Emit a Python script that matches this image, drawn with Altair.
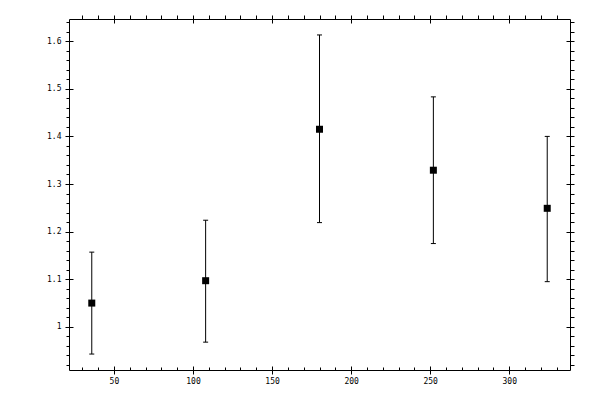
import altair as alt
import pandas as pd

# data
x_vals = [36, 108, 180, 252, 324]
y_vals = [1.050, 1.097, 1.415, 1.329, 1.249]
y_lo = [0.943, 0.968, 1.219, 1.175, 1.095]
y_hi = [1.157, 1.224, 1.613, 1.483, 1.400]

x_major = [50, 100, 150, 200, 250, 300]
x_minor = [30, 40, 60, 70, 80, 90, 110, 120, 130, 140, 160, 170, 180, 190,
           210, 220, 230, 240, 260, 270, 280, 290, 310, 320, 330]
y_major = [1.0, 1.1, 1.2, 1.3, 1.4, 1.5, 1.6]
y_minor = [0.92, 0.94, 0.96, 0.98, 1.02, 1.04, 1.06, 1.08, 1.12, 1.14, 1.16, 1.18,
           1.22, 1.24, 1.26, 1.28, 1.32, 1.34, 1.36, 1.38, 1.42, 1.44, 1.46, 1.48,
           1.52, 1.54, 1.56, 1.58, 1.62, 1.64]

x_domain = [21.6, 338.4]
y_domain = [0.9095, 1.6465]

df = pd.DataFrame({"x": x_vals, "y": y_vals, "lo": y_lo, "hi": y_hi})

xs = alt.Scale(domain=x_domain, nice=False, zero=False)
ys = alt.Scale(domain=y_domain, nice=False, zero=False)

base = alt.Chart(df)

rules = base.mark_rule(color="black", strokeWidth=1).encode(
    x=alt.X("x:Q", scale=xs, axis=None),
    y=alt.Y("lo:Q", scale=ys, axis=None),
    y2="hi:Q",
)
cap_lo = base.mark_tick(orient="horizontal", size=5, thickness=1, color="black", opacity=1).encode(
    x=alt.X("x:Q", scale=xs, axis=None),
    y=alt.Y("lo:Q", scale=ys, axis=None),
)
cap_hi = base.mark_tick(orient="horizontal", size=5, thickness=1, color="black", opacity=1).encode(
    x=alt.X("x:Q", scale=xs, axis=None),
    y=alt.Y("hi:Q", scale=ys, axis=None),
)
points = base.mark_square(size=49, color="black", opacity=1, filled=True).encode(
    x=alt.X("x:Q", scale=xs, axis=None),
    y=alt.Y("y:Q", scale=ys, axis=None),
)


def x_axis_layer(axis):
    return base.mark_point(opacity=0).encode(
        x=alt.X("x:Q", scale=xs, axis=axis, title=""),
        y=alt.Y("y:Q", scale=ys, axis=None),
    )


def y_axis_layer(axis):
    return base.mark_point(opacity=0).encode(
        x=alt.X("x:Q", scale=xs, axis=None),
        y=alt.Y("y:Q", scale=ys, axis=axis, title=""),
    )


common = dict(domain=False, grid=False, tickColor="black", tickWidth=1)

layers = [
    rules, cap_lo, cap_hi, points,
    # bottom
    x_axis_layer(alt.Axis(orient="bottom", values=x_major, ticks=False, labelPadding=7, **common)),
    x_axis_layer(alt.Axis(orient="bottom", offset=-4, values=x_major, tickSize=8, labels=False, **common)),
    x_axis_layer(alt.Axis(orient="bottom", offset=-3, values=x_minor, tickSize=3, labels=False, **common)),
    # top
    x_axis_layer(alt.Axis(orient="top", offset=-4, values=x_major, tickSize=8, labels=False, **common)),
    x_axis_layer(alt.Axis(orient="top", values=x_minor, tickSize=4, labels=False, **common)),
    # left
    y_axis_layer(alt.Axis(orient="left", values=y_major, format=".1~f", ticks=False, labelPadding=8, **common)),
    y_axis_layer(alt.Axis(orient="left", offset=-4, values=y_major, tickSize=8, labels=False, **common)),
    y_axis_layer(alt.Axis(orient="left", values=y_minor, tickSize=3, labels=False, **common)),
    # right
    y_axis_layer(alt.Axis(orient="right", offset=-4, values=y_major, tickSize=8, labels=False, **common)),
    y_axis_layer(alt.Axis(orient="right", values=y_minor, tickSize=4, labels=False, **common)),
]

chart = alt.layer(*layers).resolve_axis(x="independent", y="independent").properties(
    width=501,
    height=351,
    autosize=alt.AutoSizeParams(type="none"),
    padding={"left": 61, "top": 11, "right": 22, "bottom": 22},
    background="white",
).configure_view(
    stroke="black", strokeWidth=1
).configure_axis(
    labelFont="DejaVu Sans Mono", labelFontSize=8, labelColor="black"
)

chart.save("out.html", embed_options={"renderer": "svg", "actions": False})
